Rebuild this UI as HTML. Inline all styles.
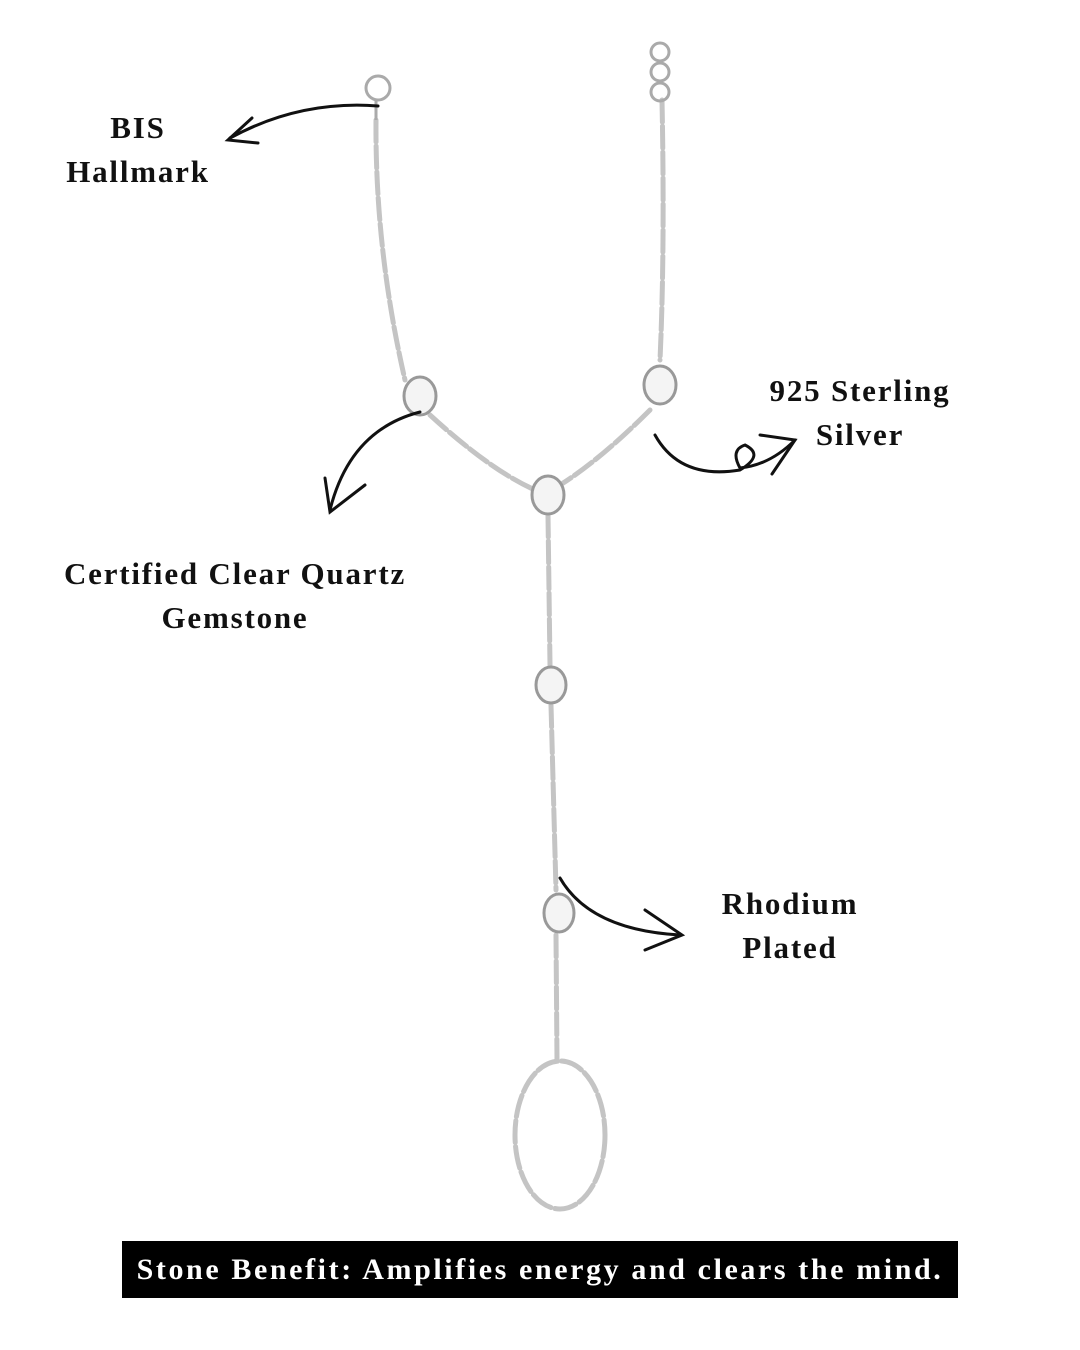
<!DOCTYPE html>
<html><head><meta charset="utf-8"><style>
html,body{margin:0;padding:0;background:#fff;}
.wrap{position:relative;width:1080px;height:1350px;overflow:hidden;font-family:"Liberation Serif",serif;}
.lbl{position:absolute;font-weight:bold;font-size:31px;color:#111;text-align:center;line-height:44px;letter-spacing:1.8px;white-space:nowrap;}
.ban{position:absolute;left:122px;top:1241px;width:836px;height:57px;background:#000;color:#fff;font-weight:bold;font-size:30px;line-height:57px;text-align:center;font-family:"Liberation Serif",serif;letter-spacing:2.6px;white-space:nowrap;}
</style></head><body><div class="wrap">
<svg width="1080" height="1350" style="position:absolute;left:0;top:0">
<g fill="none" stroke="#c4c4c4" stroke-width="5" stroke-dasharray="22 4" stroke-linecap="round">
<path d="M376 120 Q375 250 405 380"/>
<path d="M430 415 Q490 470 535 490"/>
<path d="M662 100 Q665 250 660 360"/>
<path d="M650 410 Q600 460 560 485"/>
<path d="M548 515 L550 665"/>
<path d="M551 705 L556 890"/>
<path d="M556 935 L557 1060"/>
<ellipse cx="560" cy="1135" rx="45" ry="74"/>
</g>
<g fill="none" stroke="#aaa" stroke-width="3">
<path d="M376 120 L376 100"/>
<circle cx="378" cy="88" r="12"/>
<circle cx="660" cy="52" r="9"/><circle cx="660" cy="72" r="9"/><circle cx="660" cy="92" r="9"/>
</g>
<g fill="#f4f4f4" stroke="#999" stroke-width="3">
<ellipse cx="420" cy="396" rx="16" ry="19"/>
<ellipse cx="660" cy="385" rx="16" ry="19"/>
<ellipse cx="548" cy="495" rx="16" ry="19"/>
<ellipse cx="551" cy="685" rx="15" ry="18"/>
<ellipse cx="559" cy="913" rx="15" ry="19"/>
</g>
<g fill="none" stroke="#111" stroke-width="3" stroke-linecap="round">
<path d="M378 106 Q300 100 230 138"/><path d="M252 118 L228 140 L258 143"/>
<path d="M420 412 Q350 430 330 510"/><path d="M325 478 L330 512 L365 485"/>
<path d="M655 435 Q680 480 740 470 Q765 455 745 445 Q730 450 740 468 Q770 465 795 440"/><path d="M760 435 L795 440 L772 474"/>
<path d="M560 878 Q590 930 680 935"/><path d="M645 910 L682 935 L645 950"/>
</g>
</svg>
<div class="lbl" style="left:38px;top:106px;width:200px">BIS<br>Hallmark</div>
<div class="lbl" style="left:20px;top:552px;width:430px">Certified Clear Quartz<br>Gemstone</div>
<div class="lbl" style="left:740px;top:369px;width:240px">925 Sterling<br>Silver</div>
<div class="lbl" style="left:690px;top:882px;width:200px">Rhodium<br>Plated</div>
<div class="ban">Stone Benefit: Amplifies energy and clears the mind.</div>
</div></body></html>
